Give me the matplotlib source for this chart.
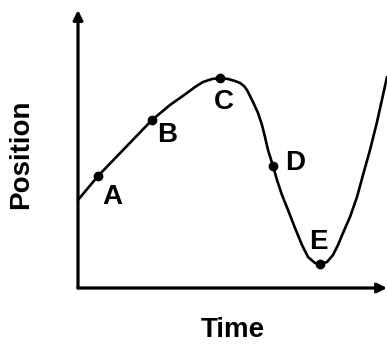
import matplotlib
matplotlib.use("Agg")
import matplotlib.pyplot as plt

# Curve (arbitrary units)
time = [0, 20, 47, 74, 92, 109, 117, 125, 134, 142, 150, 157, 162, 166, 169, 175, 180,
        184, 187, 190, 195, 199, 204, 210, 217, 224, 230, 237, 242, 249, 255, 260, 265,
        272, 279, 285, 292, 299, 305, 309]
position = [88, 112, 140, 168, 183, 195, 201, 206, 209, 210, 209, 207, 205, 202, 198, 186, 175,
            163, 151, 138, 122, 108, 93, 78, 60, 43, 31, 25, 24, 26, 33, 43, 55,
            71, 91, 113, 138, 166, 193, 211]

# Labelled points
point_labels = ["A", "B", "C", "D", "E"]
point_time = [20, 74, 142, 195, 242]
point_pos = [112, 168, 210, 122, 24]
label_offsets = [(14, -21), (15, -15), (4, -24), (22, 3), (-2, 22)]

plt.rcParams["font.family"] = ["Liberation Sans", "DejaVu Sans"]
plt.rcParams["font.weight"] = "bold"

fig = plt.figure(figsize=(3.87, 3.46), dpi=100)
ax = fig.add_axes([78 / 387, 58 / 346, 309 / 387, 278 / 346])
ax.set_xlim(0, 309)
ax.set_ylim(0, 278)
ax.axis("off")

# Axes drawn as arrows
arrow = dict(arrowstyle="-|>", lw=2.3, color="black", mutation_scale=14,
             shrinkA=0, shrinkB=0)
ax.annotate("", xy=(0, 1), xytext=(0, 0), xycoords="axes fraction", arrowprops=arrow,
            annotation_clip=False)
ax.annotate("", xy=(1, 0), xytext=(0, 0), xycoords="axes fraction", arrowprops=arrow,
            annotation_clip=False)

ax.plot(time, position, color="black", lw=1.9, clip_on=False,
        solid_capstyle="round", solid_joinstyle="round")
ax.plot(point_time, point_pos, "o", color="black", markersize=6, clip_on=False)

for lab, t, p, off in zip(point_labels, point_time, point_pos, label_offsets):
    ax.annotate(lab, xy=(t, p), xytext=off, textcoords="offset pixels",
                ha="center", va="center", fontsize=20, fontweight="bold")

fig.text(21 / 387, 1 - 154 / 346, "Position", rotation=90, ha="center", va="center",
         fontsize=20, fontweight="bold")
fig.text(233 / 387, 1 - 330 / 346, "Time", ha="center", va="center",
         fontsize=20, fontweight="bold")

fig.savefig("out.png", dpi=100)
